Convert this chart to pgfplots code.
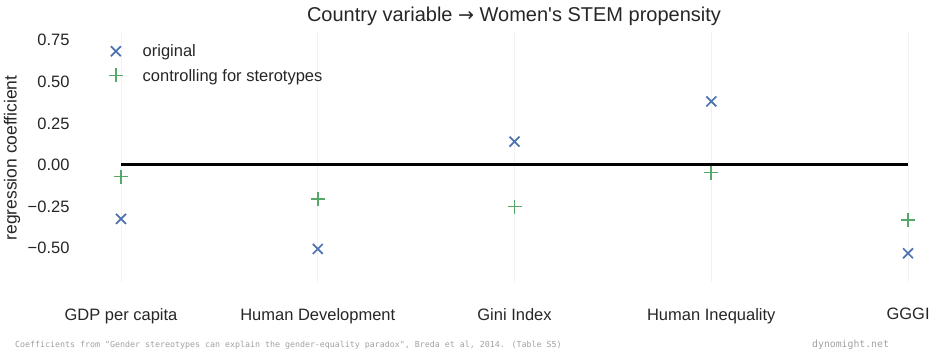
\documentclass[border=0pt]{standalone}
\usepackage{pgfplots}
\pgfplotsset{compat=1.18}
\usepackage{fontspec}
\setmainfont{Liberation Sans}
\newfontfamily\monofont{DejaVu Sans Mono}
\newfontfamily\arrowfont{DejaVu Sans}
\definecolor{sblue}{HTML}{4C72B0}
\definecolor{sgreen}{HTML}{55A868}
\definecolor{footgray}{HTML}{A0A0A0}
\definecolor{txt}{HTML}{262626}
\begin{document}
\begin{tikzpicture}[x=1pt,y=1pt]
\useasboundingbox (0,0) rectangle (947,352);
\begin{axis}[
  at={(81.65pt,70pt)}, anchor=south west,
  scale only axis, width=855.9pt, height=250pt,
  xmin=-0.2, xmax=4.15, ymin=-0.705, ymax=0.80,
  axis line style={draw=none},
  xtick={0,1,2,3,4},
  xticklabels={GDP per capita, Human Development, Gini Index, Human Inequality, GGGI},
  ytick={-0.5,-0.25,0,0.25,0.5,0.75},
  yticklabels={−0.50,−0.25,0.00,0.25,0.50,0.75},
  major tick length=0pt,
  xmajorgrids,
  grid style={color=black!5, line width=0.8pt},
  tick label style={font=\fontsize{16.5}{19}\selectfont, text=txt},
  yticklabel style={inner sep=0pt, xshift=-12pt},
  xticklabel style={inner sep=0pt, yshift=-26pt},
  clip=false,
  legend style={draw=none, fill=none, inner sep=0pt, outer sep=0pt,
    at={(axis description cs:0.0296,0.948)}, anchor=north west,
    font=\fontsize{16.5}{19}\selectfont, row sep=10pt,
    nodes={inner sep=0pt, text=txt}},
  legend cell align=left,
  legend image code/.code={\path (0pt,0pt) (34pt,0pt); \draw[#1] plot coordinates {(8pt,0.5pt)};},
]
\addplot[black, line width=3.2pt, forget plot] coordinates {(0,0) (4,0)};
\addplot[only marks, mark=x, sblue, mark size=7pt, line width=1.7pt]
  coordinates {(0,-0.325) (1,-0.506) (2,0.140) (3,0.382) (4,-0.532)};
\addlegendentry{original}
\addplot[only marks, mark=+, sgreen, mark size=7pt, line width=1.7pt]
  coordinates {(0,-0.070) (1,-0.205) (2,-0.251) (3,-0.046) (4,-0.331)};
\addlegendentry{controlling for sterotypes}
\end{axis}
\node[anchor=base, font=\fontsize{20}{24}\selectfont, text=txt] at (514,330) {Country variable {\arrowfont\fontsize{19}{24}\selectfont →} Women\textquotesingle s STEM propensity};
\node[rotate=90, font=\fontsize{17.5}{22}\selectfont, text=txt] at (12,194) {regression coefficient};
\node[anchor=base west, inner sep=0pt, font=\monofont\fontsize{8.3}{10}\selectfont, text=footgray] at (15,4) {Coefficients from "Gender stereotypes can explain the gender-equality paradox", Breda et al, 2014. (Table S5)};
\node[anchor=base west, inner sep=0pt, font=\monofont\fontsize{9.8}{12}\selectfont, text=footgray] at (812,4) {dynomight.net};
\end{tikzpicture}
\end{document}
